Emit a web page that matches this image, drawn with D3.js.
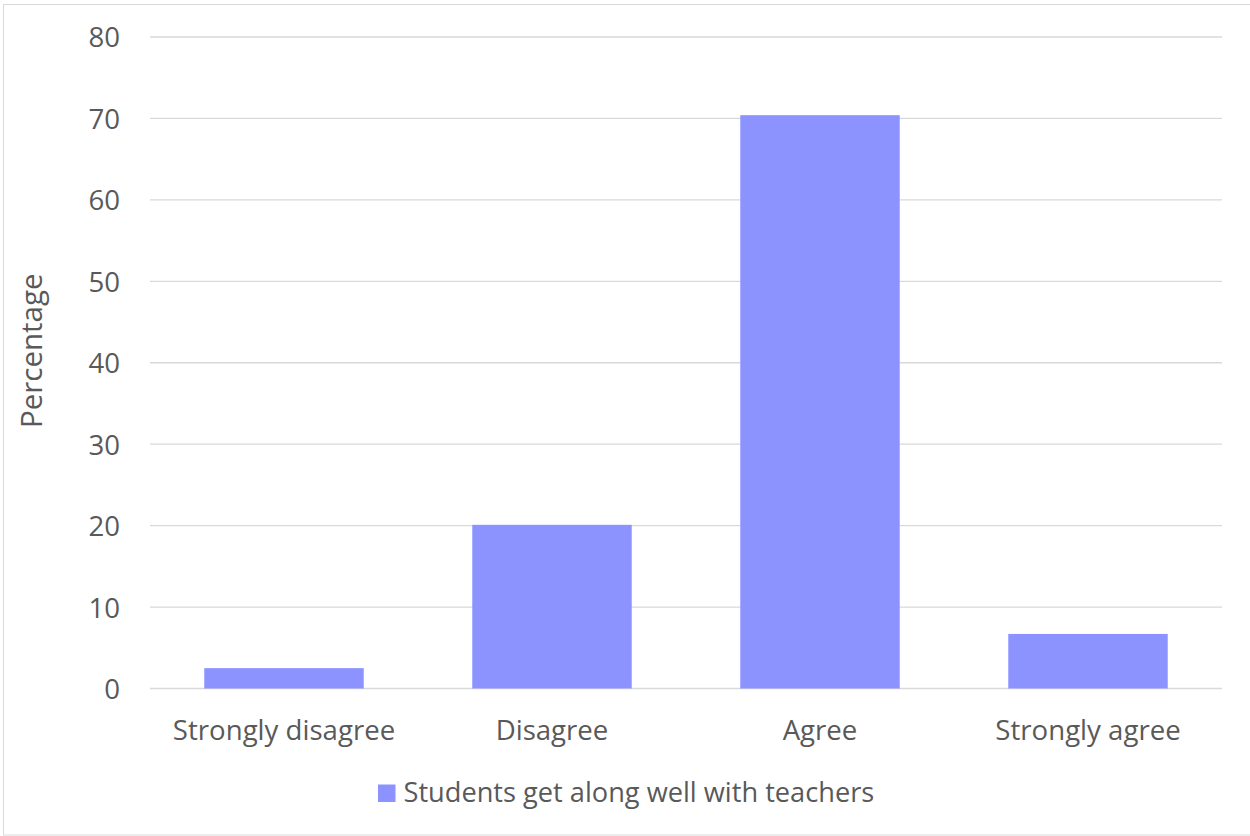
<!DOCTYPE html>
<html><head><meta charset="utf-8">
<script src="https://cdn.jsdelivr.net/npm/d3@7"></script>
<style>body{margin:0;background:#fff;} svg{display:block;}</style>
</head><body>
<script>
const categories = ["Strongly disagree", "Disagree", "Agree", "Strongly agree"];
const values = [2.5, 20.1, 70.4, 6.7];
const seriesName = "Students get along well with teachers";
const yTicks = [0, 10, 20, 30, 40, 50, 60, 70, 80];
const yTitle = "Percentage";

const W = 1250, H = 836;
const m = {left: 150, right: 28, top: 37, bottom: 148};
const svg = d3.select("body").append("svg").attr("width", W).attr("height", H);
const font = "'Open Sans', 'Noto Sans', sans-serif";
const textColor = "#595959";
const fs = 27.6;

svg.append("rect").attr("x", 3.5).attr("y", 4.5).attr("width", W + 10).attr("height", 830.5)
  .attr("fill", "#fff").attr("stroke", "#d9d9d9").attr("stroke-width", 1);

const x = d3.scaleBand().domain(categories).range([m.left, W - m.right]).paddingInner(0.405).paddingOuter(0.2025);
const y = d3.scaleLinear().domain([0, 80]).range([688.5, m.top]);

const g = svg.append("g");
g.selectAll("line.grid").data(yTicks).join("line").attr("class", "grid")
  .attr("x1", m.left).attr("x2", W - m.right)
  .attr("y1", d => y(d)).attr("y2", d => y(d))
  .attr("stroke", "#d9d9d9").attr("stroke-width", 1.3);

const yAxis = d3.axisLeft(y).tickValues(yTicks).tickSize(0).tickPadding(30);
const ya = svg.append("g").attr("transform", `translate(${m.left},0)`).call(yAxis);
ya.select(".domain").remove();
ya.selectAll("text").attr("font-family", font).attr("font-size", fs).attr("fill", textColor).attr("dy", "0.36em");

g.selectAll("rect.bar").data(values).join("rect").attr("class", "bar")
  .attr("x", (d, i) => x(categories[i])).attr("width", x.bandwidth())
  .attr("y", d => y(d)).attr("height", d => y(0) - y(d))
  .attr("fill", "#8c93ff");

const xAxis = d3.axisBottom(x).tickSize(0).tickPadding(31.5);
const xa = svg.append("g").attr("transform", `translate(0,${y(0)})`).call(xAxis);
xa.select(".domain").remove();
xa.selectAll("text").attr("font-family", font).attr("font-size", fs).attr("fill", textColor);

svg.append("text").attr("transform", `translate(42,${(y(0) + y(80)) / 2 - 12}) rotate(-90)`)
  .attr("text-anchor", "middle").attr("font-family", font).attr("font-size", 29.5)
  .attr("fill", textColor).text(yTitle);

const leg = svg.append("g").attr("transform", "translate(378,784.5)");
leg.append("rect").attr("width", 17.5).attr("height", 17.5).attr("fill", "#8c93ff");
leg.append("text").attr("x", 25.5).attr("y", 17).attr("font-family", font).attr("font-size", 27.2)
  .attr("fill", textColor).text(seriesName);
</script>
</body></html>
